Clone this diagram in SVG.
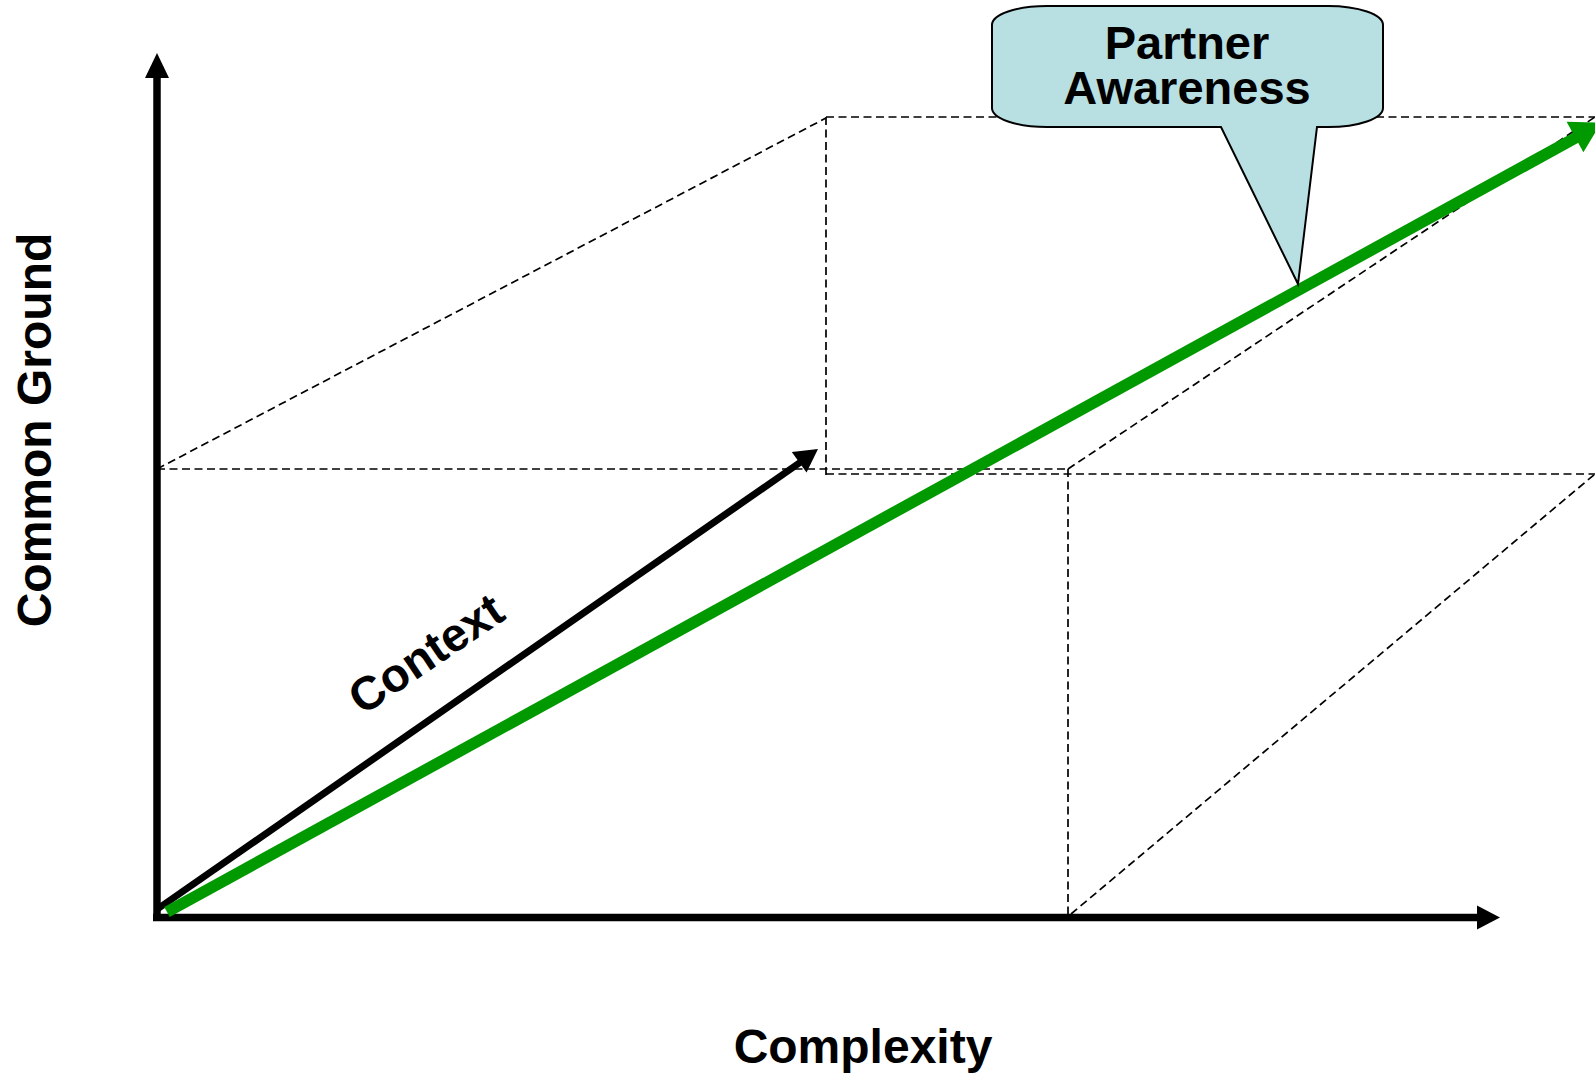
<svg xmlns="http://www.w3.org/2000/svg" width="1595" height="1075" viewBox="0 0 1595 1075">
  <style>
    .dash { fill: none; stroke: #000; stroke-width: 1.7; stroke-dasharray: 8 4.5; }
    .axis { stroke: #000; stroke-width: 7.5; fill: none; }
    .head { fill: #000; stroke: none; }
    .lbl { font-family: "Liberation Sans", Arial, sans-serif; font-weight: bold; font-size: 47px; fill: #000; }
    .callout { fill: #b8dfe2; stroke: #000; stroke-width: 2; stroke-linejoin: miter; }
  </style>
  <rect width="1595" height="1075" fill="#fff"/>

  <g id="connectors">
    <g id="guides">
      <line class="dash" x1="157" y1="469" x2="826" y2="118"/>
      <line class="dash" x1="157" y1="469" x2="1068" y2="469"/>
      <line class="dash" x1="826" y1="117" x2="826" y2="475"/>
      <line class="dash" x1="826" y1="117" x2="1595" y2="117"/>
      <line class="dash" x1="826" y1="474" x2="1595" y2="474"/>
      <line class="dash" x1="1068" y1="469" x2="1068" y2="915"/>
      <line class="dash" x1="1068" y1="469" x2="1598" y2="115"/>
      <line class="dash" x1="1071" y1="914" x2="1595" y2="474"/>
    </g>

    <g id="y-axis">
      <line class="axis" x1="157" y1="921" x2="157" y2="76"/>
      <polygon class="head" points="157,53 145,78 169,78"/>
    </g>
    <g id="x-axis">
      <line class="axis" x1="153" y1="917.5" x2="1479" y2="917.5"/>
      <polygon class="head" points="1500,917.5 1477,905.5 1477,929.5"/>
    </g>

    <g id="context-arrow">
      <line x1="156" y1="910" x2="800" y2="462.5" stroke="#000" stroke-width="7"/>
      <polygon class="head" points="818,449 806.5,472.5 791.8,452"/>
    </g>

    <g id="partner-arrow">
      <line x1="167" y1="912" x2="1577" y2="137" stroke="#009900" stroke-width="11.5"/>
      <polygon fill="#009900" points="1601.3,122.6 1583.4,152.3 1566.6,121.7"/>
    </g>
  </g>

  <g id="callout-partner-awareness">
    <path class="callout" d="M 1047,6 L 1328,6 A 55 19 0 0 1 1383,25 L 1383,108 A 55 19 0 0 1 1328,127 L 1317,127 L 1298,284 L 1221,127 L 1047,127 A 55 19 0 0 1 992,108 L 992,25 A 55 19 0 0 1 1047,6 Z"/>
    <text class="lbl" x="1187" y="59" text-anchor="middle">Partner</text>
    <text class="lbl" x="1187" y="104" text-anchor="middle">Awareness</text>
  </g>

  <g id="label-context">
    <text class="lbl" transform="translate(435,667) rotate(-34)" text-anchor="middle">Context</text>
  </g>

  <g id="label-common-ground">
    <text class="lbl" style="font-size:48px" transform="translate(51,430) rotate(-90)" text-anchor="middle">Common Ground</text>
  </g>

  <g id="label-complexity">
    <text class="lbl" style="font-size:48px" x="863" y="1063" text-anchor="middle">Complexity</text>
  </g>
</svg>
